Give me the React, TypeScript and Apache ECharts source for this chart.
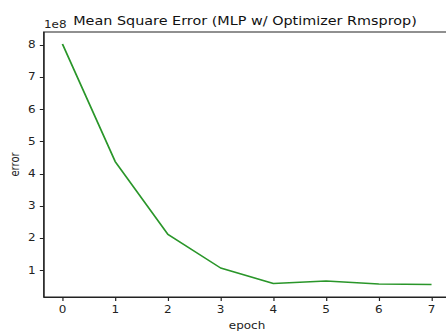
import React, { useEffect, useRef } from "react";
import * as echarts from "echarts";

const epochs = [0, 1, 2, 3, 4, 5, 6, 7];
const errors = [8.03e8, 4.38e8, 2.12e8, 1.08e8, 0.6e8, 0.68e8, 0.58e8, 0.565e8];
const xTicks = [0, 1, 2, 3, 4, 5, 6, 7];
const yTicks = [1e8, 2e8, 3e8, 4e8, 5e8, 6e8, 7e8, 8e8];
const titleText = "Mean Square Error (MLP w/ Optimizer Rmsprop)";
const xLabel = "epoch";
const yLabel = "error";

const FONT = "DejaVu Sans";
const TXT = "#222";
// the reference picture is stretched horizontally; render narrower and stretch
const CHART_W = 372;
const CHART_H = 334;
const SX = 446 / CHART_W;

export default function App() {
  const ref = useRef<HTMLDivElement>(null);
  useEffect(() => {
    const chart = echarts.init(ref.current!, null, { renderer: "svg" });
    chart.setOption({
      animation: false,
      backgroundColor: "#fff",
      grid: {
        left: 44 / SX,
        top: 32,
        width: 406 / SX,
        height: 265,
        outerBoundsMode: "none",
        containLabel: false,
        show: true,
        borderColor: "#222",
        borderWidth: 1,
        backgroundColor: "transparent",
      },
      xAxis: {
        type: "value",
        min: -0.35,
        max: 7.35,
        name: xLabel,
        nameLocation: "middle",
        nameGap: 24,
        nameTextStyle: { fontFamily: FONT, fontSize: 10, color: TXT },
        axisLine: { show: true, onZero: false, lineStyle: { color: "#222", width: 1 } },
        axisTick: { show: true, length: 4, inside: false, customValues: xTicks, lineStyle: { color: "#222" } },
        axisLabel: { customValues: xTicks, margin: 8, fontFamily: FONT, fontSize: 10, color: TXT },
        splitLine: { show: false },
      },
      yAxis: {
        type: "value",
        min: 0.18e8,
        max: 8.4e8,
        axisLine: { show: true, onZero: false, lineStyle: { color: "#222", width: 1 } },
        axisTick: { show: true, length: 3.5, inside: false, customValues: yTicks, lineStyle: { color: "#222" } },
        axisLabel: {
          customValues: yTicks,
          margin: 7,
          fontFamily: FONT,
          fontSize: 10,
          color: TXT,
          formatter: (v: number) => String(Math.round(v / 1e8)),
        },
        splitLine: { show: false },
      },
      graphic: [
        {
          type: "text",
          x: 245 / SX,
          y: 21,
          style: {
            text: titleText,
            fontFamily: FONT,
            fontSize: 12,
            fill: "#111",
            align: "center",
            verticalAlign: "middle",
          },
        },
        {
          type: "text",
          x: 44 / SX,
          y: 25,
          style: {
            text: "1e8",
            fontFamily: FONT,
            fontSize: 10,
            fill: TXT,
            align: "left",
            verticalAlign: "middle",
          },
        },
        {
          type: "text",
          x: 15 / SX,
          y: 164.5,
          rotation: Math.PI / 2,
          style: {
            text: yLabel,
            fontFamily: FONT,
            fontSize: 10,
            fill: TXT,
            align: "center",
            verticalAlign: "middle",
          },
        },
      ],
      series: [
        {
          type: "line",
          data: epochs.map((e, i) => [e, errors[i]]),
          showSymbol: false,
          symbol: "none",
          lineStyle: { color: "#2a962a", width: 1.5 },
        },
      ],
    });
    return () => chart.dispose();
  }, []);
  return (
    <div
      ref={ref}
      style={{
        position: "fixed",
        left: 0,
        top: 0,
        width: CHART_W,
        height: CHART_H,
        background: "#fff",
        transform: `scaleX(${SX})`,
        transformOrigin: "0 0",
      }}
    />
  );
}
